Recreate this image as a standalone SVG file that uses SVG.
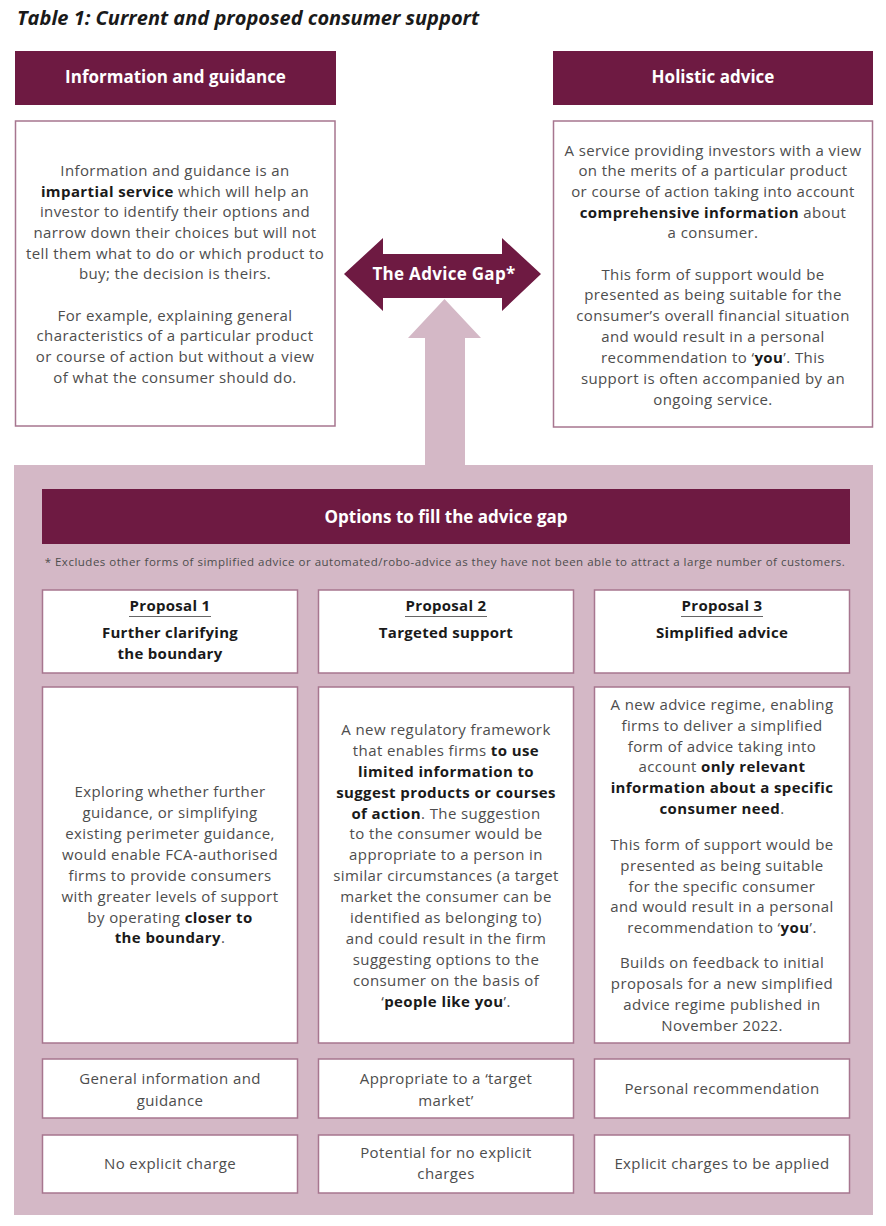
<svg xmlns="http://www.w3.org/2000/svg" width="886" height="1226" viewBox="0 0 886 1226">
<style>
.t{font-family:"Open Sans","Liberation Sans",sans-serif;font-size:15px;letter-spacing:0.4px;fill:#4d4d4d;text-anchor:middle}
.b{font-weight:bold;fill:#1a1a1a}
.hd{font-family:"Open Sans","Liberation Sans",sans-serif;font-size:17px;font-weight:bold;fill:#ffffff;text-anchor:middle}
.ph{font-family:"Open Sans","Liberation Sans",sans-serif;font-size:15px;letter-spacing:0.3px;font-weight:bold;fill:#1a1a1a;text-anchor:middle}
.box{fill:#ffffff;stroke:#a7768f;stroke-width:1.5}
.mar{fill:#6e1a42}
.pink{fill:#d4b8c6}
</style>
<rect width="886" height="1226" fill="#ffffff"/>
<text x="17" y="25" font-family="'Open Sans','Liberation Sans',sans-serif" font-size="20" font-weight="bold" font-style="italic" fill="#1a1a1a">Table 1: Current and proposed consumer support</text>

<g id="panel">
<rect class="pink" x="14" y="465" width="859" height="750"/>
</g>

<g id="connectors">
<path class="pink" d="M425,466 V338 H408 L444.5,299 L481,338 H465 V466 Z"/>
<path class="mar" d="M344,274 L383,238 V254 H502 V238 L541,274 L502,311 V298 H383 V311 Z"/>
<text x="444" y="280" class="hd" font-size="16" letter-spacing="0.3">The Advice Gap*</text>
</g>

<g id="info-header">
<rect class="mar" x="15" y="51" width="321" height="54"/>
<text x="175.5" y="83" class="hd">Information and guidance</text>
</g>
<g id="holistic-header">
<rect class="mar" x="553" y="51" width="320" height="54"/>
<text x="713" y="83" class="hd">Holistic advice</text>
</g>

<g id="info-body">
<rect class="box" x="15.5" y="121" width="319.5" height="305"/>
<text class="t" x="175" y="176">Information and guidance is an</text>
<text class="t" x="175" y="197"><tspan class="b">impartial service</tspan> which will help an</text>
<text class="t" x="175" y="217">investor to identify their options and</text>
<text class="t" x="175" y="238">narrow down their choices but will not</text>
<text class="t" x="175" y="259">tell them what to do or which product to</text>
<text class="t" x="175" y="279">buy; the decision is theirs.</text>
<text class="t" x="175" y="321">For example, explaining general</text>
<text class="t" x="175" y="341">characteristics of a particular product</text>
<text class="t" x="175" y="362">or course of action but without a view</text>
<text class="t" x="175" y="383">of what the consumer should do.</text>
</g>

<g id="holistic-body">
<rect class="box" x="553.5" y="121" width="319" height="306"/>
<text class="t" x="713" y="156">A service providing investors with a view</text>
<text class="t" x="713" y="176">on the merits of a particular product</text>
<text class="t" x="713" y="197">or course of action taking into account</text>
<text class="t" x="713" y="218"><tspan class="b">comprehensive information</tspan> about</text>
<text class="t" x="713" y="238">a consumer.</text>
<text class="t" x="713" y="280">This form of support would be</text>
<text class="t" x="713" y="300">presented as being suitable for the</text>
<text class="t" x="713" y="321">consumer’s overall financial situation</text>
<text class="t" x="713" y="342">and would result in a personal</text>
<text class="t" x="713" y="363">recommendation to ‘<tspan class="b">you</tspan>’. This</text>
<text class="t" x="713" y="384">support is often accompanied by an</text>
<text class="t" x="713" y="405">ongoing service.</text>
</g>

<g id="options-header">
<rect class="mar" x="42" y="489" width="808" height="55"/>
<text x="446" y="523" class="hd">Options to fill the advice gap</text>
</g>
<g id="footnote">
<text x="445" y="566" font-family="'Open Sans','Liberation Sans',sans-serif" font-size="11.5" letter-spacing="0.5" fill="#4d4d4d" text-anchor="middle">* Excludes other forms of simplified advice or automated/robo-advice as they have not been able to attract a large number of customers.</text>
</g>

<g id="proposal1-header">
<rect class="box" x="42.5" y="590" width="255" height="83"/>
<text class="ph" x="170" y="611">Proposal 1</text>
<line x1="129" y1="616.5" x2="211" y2="616.5" stroke="#666" stroke-width="1"/>
<text class="ph" x="170" y="638">Further clarifying</text>
<text class="ph" x="170" y="659">the boundary</text>
</g>
<g id="proposal2-header">
<rect class="box" x="318.5" y="590" width="255" height="83"/>
<text class="ph" x="446" y="611">Proposal 2</text>
<line x1="405" y1="616.5" x2="487" y2="616.5" stroke="#666" stroke-width="1"/>
<text class="ph" x="446" y="638">Targeted support</text>
</g>
<g id="proposal3-header">
<rect class="box" x="594.5" y="590" width="255" height="83"/>
<text class="ph" x="722" y="611">Proposal 3</text>
<line x1="681" y1="616.5" x2="763" y2="616.5" stroke="#666" stroke-width="1"/>
<text class="ph" x="722" y="638">Simplified advice</text>
</g>

<g id="proposal1-body">
<rect class="box" x="42.5" y="687" width="255" height="356"/>
<text class="t" x="170" y="797">Exploring whether further</text>
<text class="t" x="170" y="818">guidance, or simplifying</text>
<text class="t" x="170" y="839">existing perimeter guidance,</text>
<text class="t" x="170" y="860">would enable FCA-authorised</text>
<text class="t" x="170" y="881">firms to provide consumers</text>
<text class="t" x="170" y="902">with greater levels of support</text>
<text class="t" x="170" y="923">by operating <tspan class="b">closer to</tspan></text>
<text class="t" x="170" y="943"><tspan class="b">the boundary</tspan>.</text>
</g>

<g id="proposal2-body">
<rect class="box" x="318.5" y="687" width="255" height="356"/>
<text class="t" x="446" y="735">A new regulatory framework</text>
<text class="t" x="446" y="756">that enables firms <tspan class="b">to use</tspan></text>
<text class="t b" x="446" y="777">limited information to</text>
<text class="t b" x="446" y="798">suggest products or courses</text>
<text class="t" x="446" y="819"><tspan class="b">of action</tspan>. The suggestion</text>
<text class="t" x="446" y="839">to the consumer would be</text>
<text class="t" x="446" y="860">appropriate to a person in</text>
<text class="t" x="446" y="881">similar circumstances (a target</text>
<text class="t" x="446" y="902">market the consumer can be</text>
<text class="t" x="446" y="923">identified as belonging to)</text>
<text class="t" x="446" y="944">and could result in the firm</text>
<text class="t" x="446" y="965">suggesting options to the</text>
<text class="t" x="446" y="986">consumer on the basis of</text>
<text class="t" x="446" y="1007">‘<tspan class="b">people like you</tspan>’.</text>
</g>

<g id="proposal3-body">
<rect class="box" x="594.5" y="687" width="255" height="356"/>
<text class="t" x="722" y="710">A new advice regime, enabling</text>
<text class="t" x="722" y="731">firms to deliver a simplified</text>
<text class="t" x="722" y="752">form of advice taking into</text>
<text class="t" x="722" y="772">account <tspan class="b">only relevant</tspan></text>
<text class="t b" x="722" y="793">information about a specific</text>
<text class="t" x="722" y="814"><tspan class="b">consumer need</tspan>.</text>
<text class="t" x="722" y="850">This form of support would be</text>
<text class="t" x="722" y="871">presented as being suitable</text>
<text class="t" x="722" y="892">for the specific consumer</text>
<text class="t" x="722" y="912">and would result in a personal</text>
<text class="t" x="722" y="933">recommendation to ‘<tspan class="b">you</tspan>’.</text>
<text class="t" x="722" y="968">Builds on feedback to initial</text>
<text class="t" x="722" y="989">proposals for a new simplified</text>
<text class="t" x="722" y="1010">advice regime published in</text>
<text class="t" x="722" y="1031">November 2022.</text>
</g>

<g id="row1-p1">
<rect class="box" x="42.5" y="1059" width="255" height="59"/>
<text class="t" x="170" y="1084">General information and</text>
<text class="t" x="170" y="1106">guidance</text>
</g>
<g id="row1-p2">
<rect class="box" x="318.5" y="1059" width="255" height="59"/>
<text class="t" x="446" y="1084">Appropriate to a ‘target</text>
<text class="t" x="446" y="1106">market’</text>
</g>
<g id="row1-p3">
<rect class="box" x="594.5" y="1059" width="255" height="59"/>
<text class="t" x="722" y="1094">Personal recommendation</text>
</g>

<g id="row2-p1">
<rect class="box" x="42.5" y="1135" width="255" height="58"/>
<text class="t" x="170" y="1169">No explicit charge</text>
</g>
<g id="row2-p2">
<rect class="box" x="318.5" y="1135" width="255" height="58"/>
<text class="t" x="446" y="1158">Potential for no explicit</text>
<text class="t" x="446" y="1179">charges</text>
</g>
<g id="row2-p3">
<rect class="box" x="594.5" y="1135" width="255" height="58"/>
<text class="t" x="722" y="1169">Explicit charges to be applied</text>
</g>
</svg>
